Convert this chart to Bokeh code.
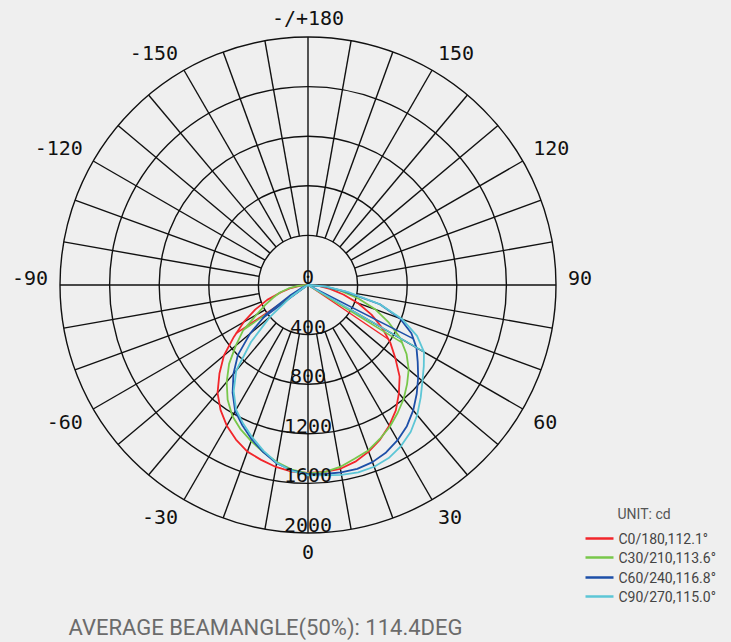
import numpy as np
from bokeh.plotting import figure
from bokeh.models import Range1d
from bokeh.core.properties import value
from bokeh.embed import file_html
from bokeh.resources import INLINE

# ---------------- data ----------------
angles = [0, 5, 10, 15, 20, 25, 30, 35, 40, 45, 50, 55, 60, 65, 70, 75, 80, 85, 90]

c0_right = [1515, 1512, 1505, 1475, 1430, 1375, 1310, 1235, 1140, 1045, 920, 810, 690, 565, 430, 295, 180, 85, 0]
c180_left = [1515, 1510, 1490, 1460, 1430, 1375, 1310, 1230, 1135, 1010, 885, 730, 600, 470, 350, 225, 140, 60, 0]
c30_right = [1520, 1515, 1490, 1450, 1420, 1370, 1320, 1260, 1200, 1130, 1060, 970, 860, 720, 580, 420, 270, 130, 0]
c210_left = [1520, 1495, 1450, 1395, 1340, 1285, 1220, 1130, 1020, 900, 760, 640, 480, 380, 300, 235, 160, 80, 0]
c60_right = [1525, 1530, 1535, 1535, 1520, 1490, 1445, 1390, 1320, 1240, 1160, 1080, 1010, 920, 790, 600, 300, 140, 0]
c240_left = [1525, 1500, 1460, 1395, 1325, 1250, 1175, 1060, 935, 800, 610, 410, 160, 50, 0, 0, 0, 0, 0]
c90_right = [1530, 1540, 1555, 1565, 1560, 1540, 1500, 1445, 1370, 1285, 1205, 1140, 1080, 970, 810, 600, 330, 150, 0]
c270_left = [1535, 1505, 1455, 1385, 1310, 1235, 1160, 1045, 900, 650, 400, 170, 50, 0, 0, 0, 0, 0, 0]

series_names = ["C0/180,112.1°", "C30/210,113.6°", "C60/240,116.8°", "C90/270,115.0°"]
beam_angles = [112.1, 113.6, 116.8, 115.0]
right_half_angles = [56.0, 58.5, 63.0, 60.0]

ring_values = [400, 800, 1200, 1600, 2000]
ring_labels = ["0", "400", "800", "1200", "1600", "2000"]
angle_ticks = [0, 30, 60, 90, 120, 150, 180, -30, -60, -90, -120, -150]
angle_tick_labels = ["0", "30", "60", "90", "120", "150", "-/+180", "-30", "-60", "-90", "-120", "-150"]
unit_label = "UNIT: cd"

# ---------------- styles / layout ----------------
colors = ["#f2262b", "#78c74a", "#1d4fa8", "#5cc6d6"]
BG = "#efefef"
GRID = "#111111"
W, H = 731, 642
CX, CY = 307.5, 284.5          # page px of pole
R_OUT_PX = 248.0
K = ring_values[-1] / R_OUT_PX  # cd per px
ORIGIN = 0                     # page px of figure's top-left corner
LABEL_FONT = value("DejaVu Sans Mono")


def px(xp, yp):
    return (xp - CX) * K, (CY - yp) * K


x0, y_top = px(ORIGIN, ORIGIN)
x1, y_bot = px(ORIGIN + W, ORIGIN + H)

p = figure(width=W, height=H, output_backend="svg", toolbar_location=None,
           x_range=Range1d(x0, x1), y_range=Range1d(y_bot, y_top),
           x_axis_type=None, y_axis_type=None, min_border=0,
           background_fill_color=BG, border_fill_color=BG, outline_line_color=None)
p.grid.visible = False

# rings
p.circle(x=[0] * len(ring_values), y=[0] * len(ring_values), radius=ring_values,
         fill_color=None, line_color=GRID, line_width=1.4)

# spokes
xs, ys = [], []
for a in range(0, 360, 10):
    r0 = 0 if a % 90 == 0 else ring_values[0]
    t = np.radians(a)
    xs.append([r0 * np.sin(t), ring_values[-1] * np.sin(t)])
    ys.append([-r0 * np.cos(t), -ring_values[-1] * np.cos(t)])
p.multi_line(xs, ys, line_color=GRID, line_width=1.4)

# curves
lefts = [c180_left, c210_left, c240_left, c270_left]
rights = [c0_right, c30_right, c60_right, c90_right]
for left, right, col, beam, rh in zip(lefts, rights, colors, beam_angles, right_half_angles):
    th = [-a for a in angles[::-1]] + angles[1:]
    I = left[::-1] + right[1:]
    tr = np.radians(th)
    xs_c = [i * np.sin(t) for i, t in zip(I, tr)]
    ys_c = [-i * np.cos(t) for i, t in zip(I, tr)]
    p.line(xs_c, ys_c, line_color=col, line_width=1.8)
    lh = beam - rh
    ir = np.interp(rh, angles, right)
    il = np.interp(lh, angles, left)
    bx = [-il * np.sin(np.radians(lh)), 0, ir * np.sin(np.radians(rh))]
    by = [-il * np.cos(np.radians(lh)), 0, -ir * np.cos(np.radians(rh))]
    p.line(bx, by, line_color=col, line_width=1.5)

# ring labels (centred just above each ring)
ring_r = [0] + ring_values
p.text(x=[0] * len(ring_r), y=[-r + 8 * K for r in ring_r], text=ring_labels,
       text_font=LABEL_FONT, text_font_size="20px",
       text_align="center", text_baseline="middle", text_color="#111111")

# angle labels
R_LAB = 260
for a, lab in zip(angle_ticks, angle_tick_labels):
    t = np.radians(a)
    s, c = np.sin(t), np.cos(t)
    align = "left" if s > 0.01 else ("right" if s < -0.01 else "center")
    dy_down = R_LAB * c + (7 if c > 0.01 else -7)   # screen px, down positive
    p.text(x=[R_LAB * s * K], y=[-dy_down * K], text=[lab],
           text_font=LABEL_FONT, text_font_size="20px",
           text_align=align, text_baseline="middle", text_color="#111111")

# legend
ux, uy = px(617, 513)
p.text(x=[ux], y=[uy], text=[unit_label], text_font=value("Roboto"), text_font_size="14px",
       text_align="left", text_baseline="middle", text_color="#555555")
row_y = [538, 557, 577, 596]
lx0 = [px(585, y)[0] for y in row_y]
lx1 = [px(613, y)[0] for y in row_y]
lyy = [px(0, y)[1] for y in row_y]
p.segment(x0=lx0, y0=lyy, x1=lx1, y1=lyy, line_color=colors, line_width=2.5)
tx = [px(618, y)[0] for y in row_y]
p.text(x=tx, y=lyy, text=series_names, text_font=value("Roboto"), text_font_size="14px",
       text_align="left", text_baseline="middle", text_color="#444444")

# footer
avg = sum(beam_angles) / len(beam_angles)
fx, fy = px(68, 627)
p.text(x=[fx], y=[fy], text=[f"AVERAGE BEAMANGLE(50%): {avg:.1f}DEG"],
       text_font=value("Roboto"), text_font_size="22px",
       text_align="left", text_baseline="middle", text_color="#6b6b6b")

html = file_html(p, INLINE)
html = html.replace("</head>", "<style>body{background:#efefef;}</style></head>", 1)
open("out.html", "w").write(html)
